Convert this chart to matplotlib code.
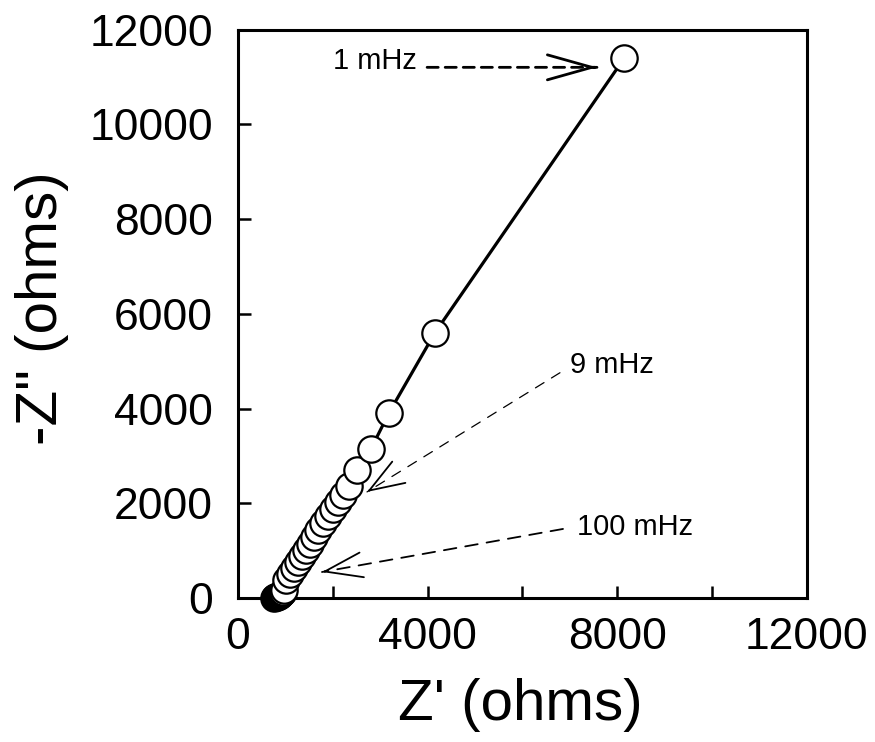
import matplotlib.pyplot as plt

plt.rcParams['font.family'] = ['Liberation Sans', 'DejaVu Sans']

# Nyquist data (ohms)
z_real = [760, 780, 800, 820, 840, 860, 880, 900, 925, 950, 980,
          1013, 1097, 1181, 1266, 1350, 1435, 1519, 1603, 1688, 1793,
          1899, 2004, 2110, 2215, 2342, 2511, 2806, 3186, 4156, 8150]
z_imag = [10, 15, 22, 30, 40, 52, 66, 82, 100, 125, 160,
          381, 507, 634, 761, 888, 1015, 1142, 1290, 1438, 1586,
          1734, 1882, 2030, 2178, 2368, 2706, 3150, 3911, 5602, 11400]

ticks = [0, 4000, 8000, 12000]
minor_ticks = [2000, 6000, 10000]
y_ticks = [0, 2000, 4000, 6000, 8000, 10000, 12000]

# annotations: label, text pos, arrow start, arrow tip, line width, dash pattern, head len/width (pt)
notes = [
    ('1 mHz', (2004, 11332), (3990, 11205), (7574, 11205), 2.0, (4, 2.5), 32, 9),
    ('9 mHz', (7004, 4926), (6793, 4757), (2722, 2241), 0.9, (8, 7), 25, 9),
    ('100 mHz', (7152, 1501), (6857, 1459), (1772, 550), 1.3, (7, 5), 27, 9),
]

fig = plt.figure(figsize=(8.75, 7.42), dpi=100)
ax = fig.add_axes([0.272, 0.194, 0.650, 0.766])

ax.plot(z_real, z_imag, '-', color='black', lw=2.3, zorder=1)
ax.plot(z_real, z_imag, 'o', ms=19, mfc='white', mec='black', mew=1.6,
        ls='none', zorder=3, clip_on=False)

for label, tpos, start, tip, lw, dashes, hl, hw in notes:
    ax.text(tpos[0], tpos[1], label, fontsize=21, ha='left', va='center')
    ax.annotate('', xy=tip, xytext=start,
                arrowprops=dict(arrowstyle='-', lw=lw, linestyle=(0, dashes),
                                color='black', shrinkA=0, shrinkB=0))
    # solid open head on a tiny stub at the tip
    near = (start[0] + 0.985 * (tip[0] - start[0]),
            start[1] + 0.985 * (tip[1] - start[1]))
    ax.annotate('', xy=tip, xytext=near,
                arrowprops=dict(arrowstyle=f'->,head_length={hl},head_width={hw}',
                                mutation_scale=1, lw=max(lw, 1.3), color='black',
                                shrinkA=0, shrinkB=0))

ax.set_xlim(0, 12000)
ax.set_ylim(0, 12000)
ax.set_xticks(ticks)
ax.set_xticks(minor_ticks, minor=True)
ax.set_yticks(y_ticks)
ax.tick_params(which='both', direction='in', length=9, width=1.8,
               labelsize=32, top=False, right=False)
ax.tick_params(axis='x', pad=14)
ax.tick_params(axis='y', pad=18)
for s in ax.spines.values():
    s.set_linewidth(2.2)

ax.set_xlabel("Z' (ohms)", fontsize=42)
ax.set_ylabel('-Z" (ohms)', fontsize=42)
ax.xaxis.set_label_coords(0.496, -0.140)
ax.yaxis.set_label_coords(-0.297, 0.51)

fig.savefig('out.png', dpi=100)
